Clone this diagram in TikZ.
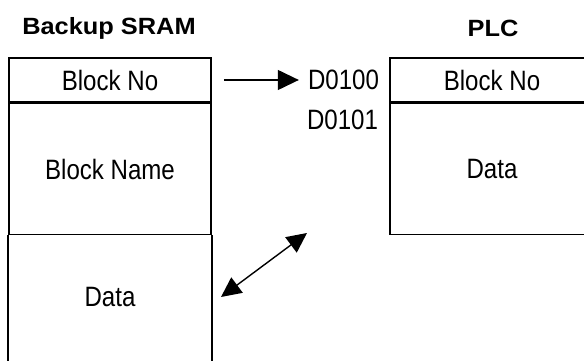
\documentclass[tikz,border=0pt]{standalone}
\usepackage{fontspec}
\setmainfont[FakeStretch=0.86]{Liberation Sans}
\newfontfamily\titlefont[FakeStretch=1.08]{Liberation Sans}
\usepackage{tikz}
\usetikzlibrary{arrows.meta, positioning}

\tikzset{
    cell/.style={draw, line width=1.6pt, inner sep=0pt, font=\fontsize{28}{30}\selectfont},
    title/.style={font=\titlefont\fontsize{23.5}{26}\selectfont\bfseries, inner sep=0pt},
    addr/.style={font=\fontsize{28}{30}\selectfont, inner sep=0pt, anchor=east},
    link/.style={line width=1.2pt, -{Triangle[length=21pt, width=20pt]}},
    twoway/.style={line width=1.4pt, {Triangle[length=20pt, width=19pt]}-{Triangle[length=20pt, width=19pt]}}
}

\begin{document}
\begin{tikzpicture}[x=1pt, y=1pt]
    \useasboundingbox (0,0) rectangle (584,361);
    \clip (0,0) rectangle (584,361);

    % Titles
    \node[title] (sramtitle) at (109,333) {Backup SRAM};
    \node[title] (plctitle) at (493,333) {PLC};

    % Backup SRAM box
    \node[cell, minimum width=202pt, minimum height=44pt] (sramno) at (110,281) {Block No};
    \node[cell, minimum width=202pt, minimum height=131pt, below=0pt of sramno] (sramname) {Block Name};
    \draw[line width=1.6pt] (sramname.south west) -- ++(0,-140);
    \draw[line width=1.6pt] (sramname.south east) -- ++(0,-140);
    \node[font=\fontsize{28}{30}\selectfont] (sramdata) at (110,64) {Data};

    % PLC box (runs off the right edge)
    \node[cell, minimum width=210pt, minimum height=44pt] (plcno) at (495,281) {\hspace*{-6pt}Block No};
    \node[cell, minimum width=210pt, minimum height=131pt, below=0pt of plcno] (plcdata) {\hspace*{-6pt}Data};

    % Addresses
    \node[addr] (d0100) at ([xshift=-10pt]plcno.west) {D0100};
    \node[addr] (d0101) at ([xshift=-11pt,yshift=-40pt]plcno.west) {D0101};

    % Transfer arrows
    \draw[link, shorten <=12pt, shorten >=9pt] (sramno.east) -- (d0100.west);
    \coordinate (swapa) at (221,64);
    \coordinate (swapb) at (307,128);
    \draw[twoway] (swapa) -- (swapb);
\end{tikzpicture}
\end{document}
